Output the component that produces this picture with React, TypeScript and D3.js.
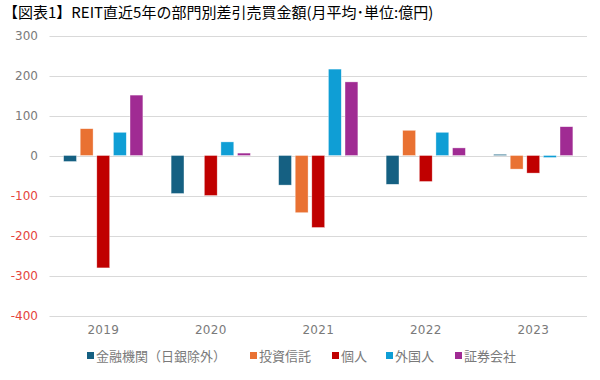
import React from "react";
import * as d3 from "d3";

const years = ["2019", "2020", "2021", "2022", "2023"];
const seriesNames = ["金融機関（日銀除外）", "投資信託", "個人", "外国人", "証券会社"];
const seriesColors = ["#156082", "#E97132", "#C00000", "#0F9ED5", "#A02B93"];
const banks = [-15, -95, -74, -72, 3];
const funds = [67, 0, -143, 63, -34];
const individuals = [-281, -100, -180, -65, -44];
const foreigners = [58, 34, 216, 58, -5];
const securities = [151, 6, 184, 19, 72];
const yTicks = [300, 200, 100, 0, -100, -200, -300, -400];
const title = "【図表1】REIT直近5年の部門別差引売買金額(月平均･単位:億円)";

const seriesValues = [banks, funds, individuals, foreigners, securities];

export default function App() {
  const W = 600, H = 380;
  const x0 = d3.scaleBand<string>().domain(years).range([49.5, 587]);
  const x1 = d3
    .scaleBand<number>()
    .domain(d3.range(seriesNames.length))
    .range([0, x0.bandwidth()])
    .paddingInner(0.225)
    .paddingOuter(0.85);
  const y = d3.scaleLinear().domain([-400, 300]).range([315.5, 35.5]);
  const font = "'DejaVu Sans', sans-serif";
  const cjk = "'Noto Sans CJK JP', sans-serif";
  const legendX = [87, 250, 332, 386, 455];

  return (
    <svg width={W} height={H} style={{ position: "absolute", left: 0, top: 0, background: "#fff" }}>
      <text x={3} y={18} fontFamily={cjk} fontSize={15} fill="#000">{title}</text>
      {yTicks.map((t) => (
        <g key={t}>
          <line x1={49.5} x2={587} y1={Math.round(y(t)) + 0.5} y2={Math.round(y(t)) + 0.5} stroke="#d9d9d9" strokeWidth={1} />
          <text x={38} y={y(t) + 4.5} textAnchor="end" fontFamily={font} fontSize={12} fill={t < 0 ? "#E5443C" : "#7a7a7a"}>
            {t < 0 ? "-" + Math.abs(t) : t}
          </text>
        </g>
      ))}
      {years.map((yr, i) => (
        <g key={yr}>
          {seriesValues.map((vals, s) => {
            const v = vals[i];
            const bx = (x0(yr) as number) + (x1(s) as number);
            const top = y(Math.max(0, v));
            const h = Math.abs(y(v) - y(0));
            return (
              <rect key={s} x={bx} y={top} width={x1.bandwidth()} height={h}
                fill={seriesColors[s]} stroke="#fff" strokeOpacity={0.6} strokeWidth={0.6} />
            );
          })}
          <text x={(x0(yr) as number) + x0.bandwidth() / 2} y={334} textAnchor="middle"
            fontFamily={font} fontSize={12} fill="#7a7a7a" letterSpacing={0.3}>{yr}</text>
        </g>
      ))}
      {seriesNames.map((n, s) => (
        <g key={n}>
          <rect x={legendX[s]} y={352} width={7} height={7} fill={seriesColors[s]} />
          <text x={legendX[s] + 9} y={360.5} fontFamily={cjk} fontSize={13} fill="#7a7a7a">{n}</text>
        </g>
      ))}
    </svg>
  );
}
